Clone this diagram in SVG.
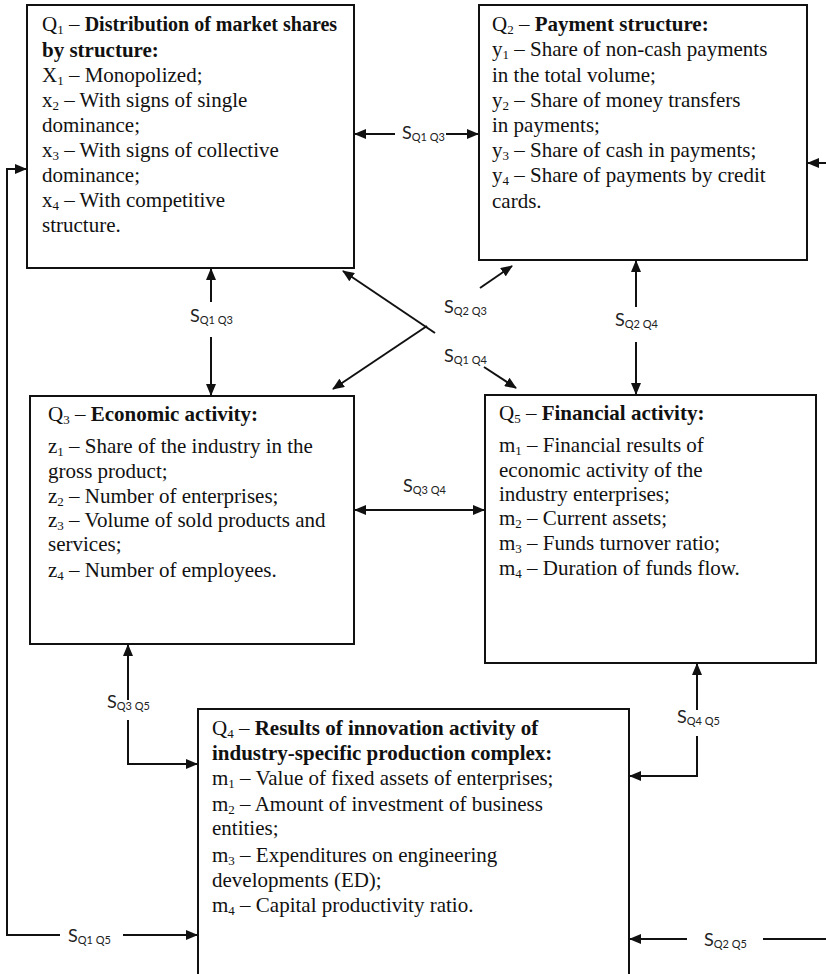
<svg xmlns="http://www.w3.org/2000/svg" width="826" height="974" viewBox="0 0 826 974">
<style>
.box{fill:#fff;stroke:#111;stroke-width:2}
.t{font-family:'Liberation Serif','DejaVu Serif','Noto Serif',serif;font-size:21px;fill:#111}
.b{font-weight:bold}
.s{font-size:13px}
.c{fill:none;stroke:#111;stroke-width:2}
.lab{font-family:Lato,'Open Sans',sans-serif;font-size:18px;fill:#222}
.ls{font-size:11px}
</style>
<defs>
<marker id="ah" markerUnits="userSpaceOnUse" markerWidth="12" markerHeight="10" refX="11" refY="5" orient="auto-start-reverse" viewBox="0 0 12 10">
<path d="M0,0 L12,5 L0,10 z" fill="#111"/>
</marker>
</defs>
<rect width="826" height="974" fill="#fff"/>

<g id="connectors">
<line class="c" x1="355" y1="134" x2="395" y2="134" marker-start="url(#ah)"/>
<line class="c" x1="446" y1="134" x2="478" y2="134" marker-end="url(#ah)"/>
<text class="lab" x="402" y="139">S<tspan class="ls" dy="2">Q1 Q3</tspan></text>
<line class="c" x1="211" y1="269" x2="211" y2="302" marker-start="url(#ah)"/>
<line class="c" x1="211" y1="337" x2="211" y2="395" marker-end="url(#ah)"/>
<text class="lab" x="190" y="322">S<tspan class="ls" dy="2">Q1 Q3</tspan></text>
<line class="c" x1="435" y1="333" x2="343" y2="271" marker-end="url(#ah)"/>
<line class="c" x1="427" y1="326" x2="333" y2="389" marker-end="url(#ah)"/>
<line class="c" x1="480" y1="288" x2="512" y2="266" marker-end="url(#ah)"/>
<text class="lab" x="444" y="313">S<tspan class="ls" dy="2">Q2 Q3</tspan></text>
<line class="c" x1="484" y1="367" x2="516" y2="388" marker-end="url(#ah)"/>
<text class="lab" x="444" y="362">S<tspan class="ls" dy="2">Q1 Q4</tspan></text>
<line class="c" x1="636" y1="261" x2="636" y2="307" marker-start="url(#ah)"/>
<line class="c" x1="636" y1="342" x2="636" y2="394" marker-end="url(#ah)"/>
<text class="lab" x="615" y="326">S<tspan class="ls" dy="2">Q2 Q4</tspan></text>
<line class="c" x1="355" y1="510" x2="484" y2="510" marker-start="url(#ah)" marker-end="url(#ah)"/>
<text class="lab" x="403" y="492">S<tspan class="ls" dy="2">Q3 Q4</tspan></text>
<line class="c" x1="128" y1="645" x2="128" y2="700" marker-start="url(#ah)"/>
<polyline class="c" points="128,720 128,764 197,764" marker-end="url(#ah)"/>
<text class="lab" x="107" y="708">S<tspan class="ls" dy="2">Q3 Q5</tspan></text>
<line class="c" x1="697" y1="664" x2="697" y2="710" marker-start="url(#ah)"/>
<polyline class="c" points="697,736 697,776 630,776" marker-end="url(#ah)"/>
<text class="lab" x="677" y="723">S<tspan class="ls" dy="2">Q4 Q5</tspan></text>
<polyline class="c" points="26,169 7,169 7,935 60,935" marker-start="url(#ah)"/>
<line class="c" x1="123" y1="935" x2="197" y2="935" marker-end="url(#ah)"/>
<text class="lab" x="68" y="942">S<tspan class="ls" dy="2">Q1 Q5</tspan></text>
<line class="c" x1="830" y1="163" x2="808" y2="163" marker-end="url(#ah)"/>
<line class="c" x1="687" y1="939" x2="630" y2="939" marker-end="url(#ah)"/>
<line class="c" x1="763" y1="939" x2="830" y2="939"/>
<text class="lab" x="704" y="946">S<tspan class="ls" dy="2">Q2 Q5</tspan></text>
</g>

<g id="Q1">
<rect class="box" x="27" y="5" width="327" height="263"/>
<text class="t" x="42" y="31">Q<tspan class="s" dy="3">1</tspan><tspan dy="-3"> – </tspan><tspan class="b" style="font-size:20px">Distribution of market shares</tspan></text>
<text class="t b" x="42" y="57">by structure:</text>
<text class="t" x="42" y="82">X<tspan class="s" dy="3">1</tspan><tspan dy="-3"> – Monopolized;</tspan></text>
<text class="t" x="42" y="107">x<tspan class="s" dy="3">2</tspan><tspan dy="-3"> – With signs of single</tspan></text>
<text class="t" x="42" y="132">dominance;</text>
<text class="t" x="42" y="157">x<tspan class="s" dy="3">3</tspan><tspan dy="-3"> – With signs of collective</tspan></text>
<text class="t" x="42" y="182">dominance;</text>
<text class="t" x="42" y="207">x<tspan class="s" dy="3">4</tspan><tspan dy="-3"> – With competitive</tspan></text>
<text class="t" x="42" y="232">structure.</text>
</g>

<g id="Q2">
<rect class="box" x="479" y="5" width="328" height="255"/>
<text class="t" x="492" y="31">Q<tspan class="s" dy="3">2</tspan><tspan dy="-3"> – </tspan><tspan class="b">Payment structure:</tspan></text>
<text class="t" x="492" y="56">y<tspan class="s" dy="3">1</tspan><tspan dy="-3"> – Share of non-cash payments</tspan></text>
<text class="t" x="492" y="82">in the total volume;</text>
<text class="t" x="492" y="107">y<tspan class="s" dy="3">2</tspan><tspan dy="-3"> – Share of money transfers</tspan></text>
<text class="t" x="492" y="132">in payments;</text>
<text class="t" x="492" y="157">y<tspan class="s" dy="3">3</tspan><tspan dy="-3"> – Share of cash in payments;</tspan></text>
<text class="t" x="492" y="182">y<tspan class="s" dy="3">4</tspan><tspan dy="-3"> – Share of payments by credit</tspan></text>
<text class="t" x="492" y="208">cards.</text>
</g>

<g id="Q3">
<rect class="box" x="30" y="396" width="324" height="248"/>
<text class="t" x="48" y="421">Q<tspan class="s" dy="3">3</tspan><tspan dy="-3"> – </tspan><tspan class="b">Economic activity:</tspan></text>
<text class="t" x="48" y="453">z<tspan class="s" dy="3">1</tspan><tspan dy="-3"> – Share of the industry in the</tspan></text>
<text class="t" x="48" y="478">gross product;</text>
<text class="t" x="48" y="503">z<tspan class="s" dy="3">2</tspan><tspan dy="-3"> – Number of enterprises;</tspan></text>
<text class="t" x="48" y="527">z<tspan class="s" dy="3">3</tspan><tspan dy="-3"> – Volume of sold products and</tspan></text>
<text class="t" x="48" y="551">services;</text>
<text class="t" x="48" y="577">z<tspan class="s" dy="3">4</tspan><tspan dy="-3"> – Number of employees.</tspan></text>
</g>

<g id="Q5">
<rect class="box" x="485" y="395" width="331" height="268"/>
<text class="t" x="499" y="420">Q<tspan class="s" dy="3">5</tspan><tspan dy="-3"> – </tspan><tspan class="b">Financial activity:</tspan></text>
<text class="t" x="499" y="452">m<tspan class="s" dy="3">1</tspan><tspan dy="-3"> – Financial results of</tspan></text>
<text class="t" x="499" y="477">economic activity of the</text>
<text class="t" x="499" y="501">industry enterprises;</text>
<text class="t" x="499" y="525">m<tspan class="s" dy="3">2</tspan><tspan dy="-3"> – Current assets;</tspan></text>
<text class="t" x="499" y="550">m<tspan class="s" dy="3">3</tspan><tspan dy="-3"> – Funds turnover ratio;</tspan></text>
<text class="t" x="499" y="575">m<tspan class="s" dy="3">4</tspan><tspan dy="-3"> – Duration of funds flow.</tspan></text>
</g>

<g id="Q4">
<rect class="box" x="198" y="709" width="431" height="272"/>
<text class="t" x="212" y="735">Q<tspan class="s" dy="3">4</tspan><tspan dy="-3"> – </tspan><tspan class="b">Results of innovation activity of</tspan></text>
<text class="t b" x="212" y="760">industry-specific production complex:</text>
<text class="t" x="212" y="785">m<tspan class="s" dy="3">1</tspan><tspan dy="-3"> – Value of fixed assets of enterprises;</tspan></text>
<text class="t" x="212" y="811">m<tspan class="s" dy="3">2</tspan><tspan dy="-3"> – Amount of investment of business</tspan></text>
<text class="t" x="212" y="835">entities;</text>
<text class="t" x="212" y="862">m<tspan class="s" dy="3">3</tspan><tspan dy="-3"> – Expenditures on engineering</tspan></text>
<text class="t" x="212" y="887">developments (ED);</text>
<text class="t" x="212" y="912">m<tspan class="s" dy="3">4</tspan><tspan dy="-3"> – Capital productivity ratio.</tspan></text>
</g>
</svg>
